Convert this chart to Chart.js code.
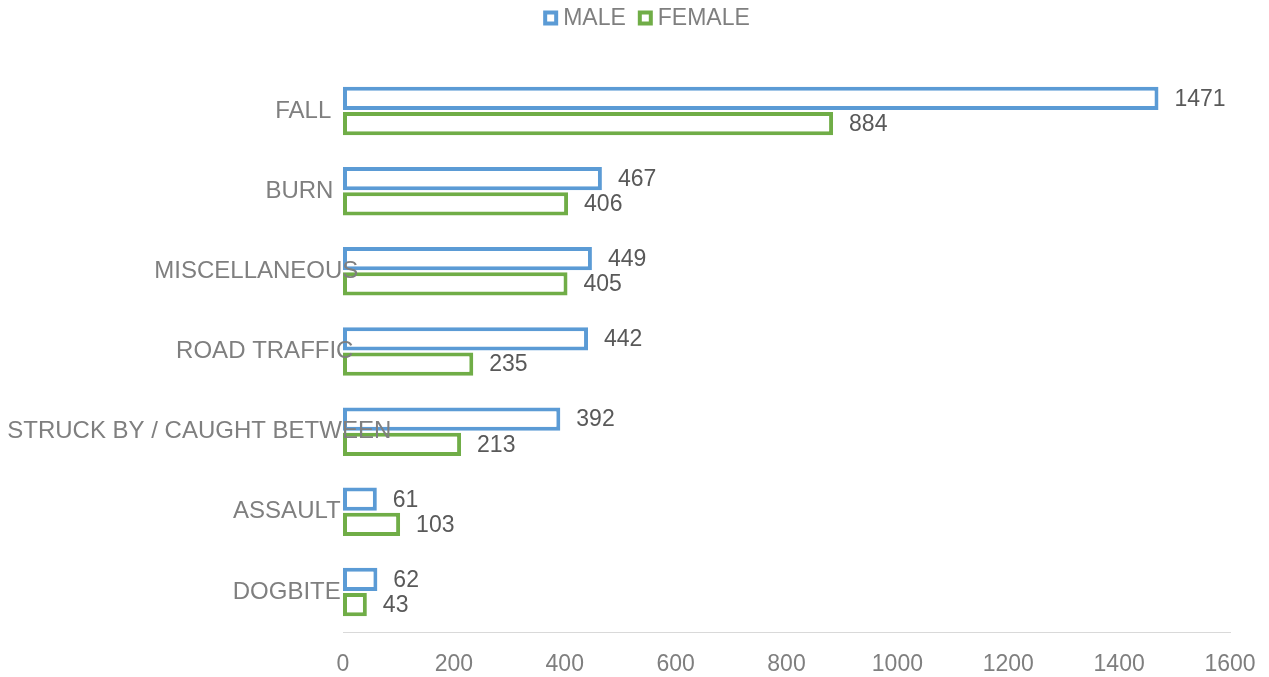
<!DOCTYPE html>
<html>
<head>
<meta charset="utf-8">
<script src="https://cdn.jsdelivr.net/npm/chart.js@4/dist/chart.umd.min.js"></script>
<style>
html,body{margin:0;padding:0;background:#fff;}
#wrap{width:1269px;height:677px;}
</style>
</head>
<body>
<div id="wrap"><canvas id="c"></canvas></div>
<script>
const categories = ["FALL", "BURN", "MISCELLANEOUS", "ROAD TRAFFIC", "STRUCK BY / CAUGHT BETWEEN", "ASSAULT", "DOGBITE"];
const maleValues = [1471, 467, 449, 442, 392, 61, 62];
const femaleValues = [884, 406, 405, 235, 213, 103, 43];
const xTicks = [0, 200, 400, 600, 800, 1000, 1200, 1400, 1600];

const FONT = "'Liberation Sans', Arial, sans-serif";

const labelPlugin = {
  id: 'labelPlugin',
  afterDatasetsDraw(chart) {
    const ctx = chart.ctx;
    const ys = chart.scales.y;
    ctx.save();
    ctx.font = "23px " + FONT;
    ctx.textBaseline = 'middle';
    // value labels
    ctx.fillStyle = '#595959';
    ctx.textAlign = 'left';
    chart.data.datasets.forEach((ds, di) => {
      const meta = chart.getDatasetMeta(di);
      meta.data.forEach((el, i) => {
        ctx.fillText(String(ds.data[i]), el.x + 16, el.y + 1);
      });
    });
    // category labels
    ctx.font = "24px " + FONT;
    ctx.fillStyle = '#7f7f7f';
    categories.forEach((c, i) => {
      const w = ctx.measureText(c).width;
      const x = chart.chartArea.left - 22 - 0.817 * w;
      ctx.fillText(c, x, ys.getPixelForValue(i));
    });
    // legend
    ctx.font = "23px " + FONT;
    const items = chart.data.datasets.map(ds => ({ text: ds.label, color: ds.borderColor }));
    const box = 15, gapText = 5, gapItem = 12;
    let total = 0;
    items.forEach((it, k) => { it.w = ctx.measureText(it.text).width; total += box + gapText + it.w + (k ? gapItem : 0); });
    let x = chart.width / 2 + 12 - total / 2;
    const cy = 18;
    items.forEach((it, k) => {
      if (k) x += gapItem;
      ctx.fillStyle = '#ffffff';
      ctx.fillRect(x, cy - 7.5, box, box);
      ctx.strokeStyle = it.color;
      ctx.lineWidth = 4;
      ctx.strokeRect(x + 2, cy - 7.5 + 2, box - 4, box - 4);
      x += box + gapText;
      ctx.fillStyle = '#7f7f7f';
      ctx.fillText(it.text, x, cy + 1);
      x += it.w;
    });
    ctx.restore();
  }
};

new Chart(document.getElementById('c'), {
  type: 'bar',
  data: {
    labels: categories,
    datasets: [
      { label: 'MALE', data: maleValues, backgroundColor: '#ffffff', borderColor: '#5B9BD5', borderWidth: 4, borderSkipped: false },
      { label: 'FEMALE', data: femaleValues, backgroundColor: '#ffffff', borderColor: '#70AD47', borderWidth: 4, borderSkipped: false }
    ]
  },
  options: {
    indexAxis: 'y',
    responsive: true,
    maintainAspectRatio: false,
    animation: false,
    categoryPercentage: 0.63,
    barPercentage: 0.92,
    layout: { padding: { top: 71, right: 39, left: 0, bottom: 0 } },
    plugins: {
      legend: { display: false },
      tooltip: { enabled: false }
    },
    scales: {
      x: {
        min: 0, max: 1600,
        afterBuildTicks(scale) { scale.ticks = xTicks.map(v => ({ value: v })); },
        grid: { display: false, drawTicks: false },
        border: { display: true, color: '#d9d9d9', width: 1 },
        ticks: { color: '#7f7f7f', font: { size: 23, family: FONT }, padding: 19, maxRotation: 0, autoSkip: false,
                 callback: (v) => String(v) },
        afterFit(scale) { scale.height = 45; scale.paddingRight = 0; scale.paddingLeft = 0; }
      },
      y: {
        grid: { display: false, drawTicks: false },
        border: { display: false },
        ticks: { display: false },
        afterFit(scale) { scale.width = 343; }
      }
    }
  },
  plugins: [labelPlugin]
});
</script>
</body>
</html>
